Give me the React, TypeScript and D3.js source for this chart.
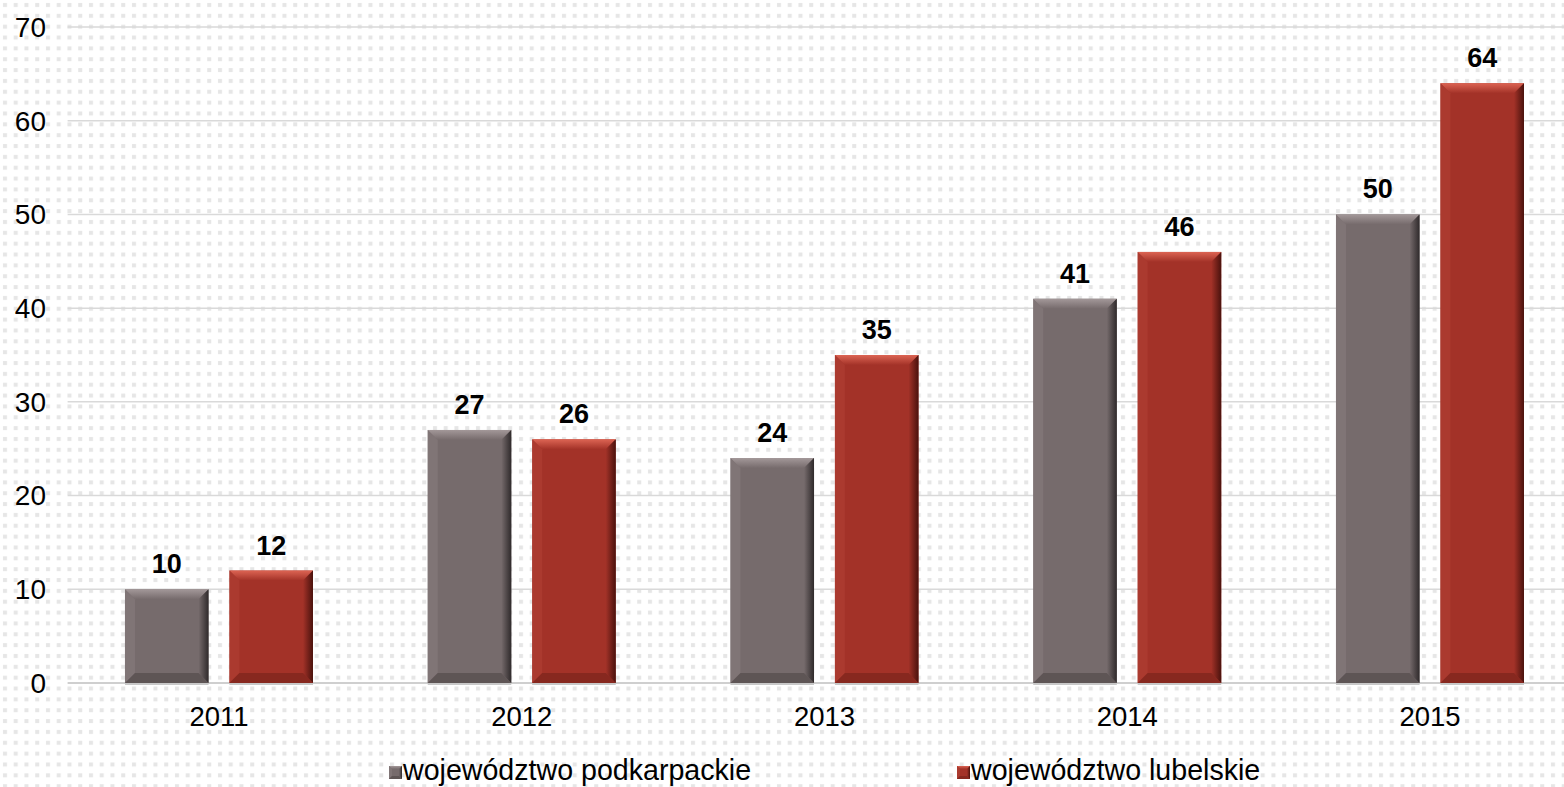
import * as d3 from 'd3';

const years = ['2011', '2012', '2013', '2014', '2015'];
const seriesNames = ['województwo podkarpackie', 'województwo lubelskie'];
const podkarpackie = [10, 27, 24, 41, 50];
const lubelskie = [12, 26, 35, 46, 64];
const yTicks = [0, 10, 20, 30, 40, 50, 60, 70];

const W = 1564;
const H = 787;
const FONT = '"Liberation Sans", Arial, sans-serif';

const palette = [
  { id: 'g', base: '#766b6c', hi: '#a39899', side: '#84797a', dark: '#2f2a2b', bottom: '#544b4c' },
  { id: 'r', base: '#a33228', hi: '#dc6453', side: '#ae3d32', dark: '#4a120d', bottom: '#7a231b' },
];

function BevelRect({ x, y, w, h, c, b }: { x: number; y: number; w: number; h: number; c: typeof palette[0]; b: number }) {
  const bv = Math.min(b, w / 2, h / 2);
  const x2 = x + w;
  const y2 = y + h;
  const pts = (p: number[][]) => p.map(q => q.join(',')).join(' ');
  return (
    <g>
      <rect x={x} y={y} width={w} height={h} fill={c.base} />
      <polygon points={pts([[x, y], [x2, y], [x2 - bv, y + bv], [x + bv, y + bv]])} fill={`url(#top-${c.id})`} />
      <polygon points={pts([[x, y], [x + bv, y + bv], [x + bv, y2 - bv], [x, y2]])} fill={c.side} opacity={0.7} />
      <polygon points={pts([[x2, y], [x2, y2], [x2 - bv, y2 - bv], [x2 - bv, y + bv]])} fill={`url(#right-${c.id})`} />
      <polygon points={pts([[x, y2], [x + bv, y2 - bv], [x2 - bv, y2 - bv], [x2, y2]])} fill={c.bottom} opacity={0.7} />
    </g>
  );
}

export default function App() {
  const x0 = 67.6;
  const step = 302.75;
  const x = d3.scaleBand<string>()
    .domain(years)
    .range([x0, x0 + step * years.length])
    .paddingInner(0.379)
    .paddingOuter(0.1895);
  const xs = d3.scaleBand<string>().domain(seriesNames).range([0, x.bandwidth()]).paddingInner(0.2);
  const y = d3.scaleLinear().domain([0, 70]).range([683, 27]);

  const values = [podkarpackie, lubelskie];

  return (
    <svg width={W} height={H} style={{ position: 'absolute', left: 0, top: 0, display: 'block' }} fontFamily={FONT}>
      <defs>
        <pattern id="dots" width={10.75} height={10.85} patternUnits="userSpaceOnUse">
          <rect x={3} y={3} width={4} height={4} fill="#e6e6e6" />
        </pattern>
        {palette.map(c => (
          <g key={c.id}>
            <linearGradient id={`top-${c.id}`} x1="0" y1="0" x2="0" y2="1">
              <stop offset="0%" stopColor={c.hi} />
              <stop offset="100%" stopColor={c.base} />
            </linearGradient>
            <linearGradient id={`right-${c.id}`} x1="0" y1="0" x2="1" y2="0">
              <stop offset="0%" stopColor={c.base} />
              <stop offset="100%" stopColor={c.dark} />
            </linearGradient>
          </g>
        ))}
      </defs>
      <rect width={W} height={H} fill="#fff" />
      <rect width={W} height={H} fill="url(#dots)" />

      {/* grid lines */}
      {yTicks.map(t => (
        <line key={t} x1={x0} x2={W} y1={y(t)} y2={y(t)} stroke={t === 0 ? '#cfcfcf' : '#d9d9d9'} strokeWidth={t === 0 ? 2 : 1.5} />
      ))}

      {/* y tick labels */}
      {yTicks.map(t => (
        <text key={t} x={46} y={y(t)} dy="0.35em" textAnchor="end" fontSize={28} fill="#000">{t}</text>
      ))}

      {/* bars */}
      {years.map((yr, i) => (
        <g key={yr}>
          {seriesNames.map((s, si) => {
            const v = values[si][i];
            const bx = x(yr)! + xs(s)!;
            const by = y(v);
            const bw = xs.bandwidth();
            const bh = y(0) - by;
            return (
              <g key={s}>
                <rect x={bx} y={y(0) - 1} width={bw} height={3} fill="#c8c8c8" />
                <BevelRect x={bx} y={by} w={bw} h={bh} c={palette[si]} b={10} />
                <text x={bx + bw / 2} y={by - 16} textAnchor="middle" fontSize={27} fontWeight="bold" fill="#000">{v}</text>
              </g>
            );
          })}
          <text x={x(yr)! + x.bandwidth() / 2} y={726} textAnchor="middle" fontSize={27.5} fill="#000">{yr}</text>
        </g>
      ))}

      {/* legend */}
      {seriesNames.map((s, si) => {
        const lx = si === 0 ? 389 : 957;
        return (
          <g key={s}>
            <BevelRect x={lx} y={766} w={13} h={13} c={palette[si]} b={3} />
            <text x={lx + 14} y={780} fontSize={28.6} fill="#000">{s}</text>
          </g>
        );
      })}
    </svg>
  );
}
